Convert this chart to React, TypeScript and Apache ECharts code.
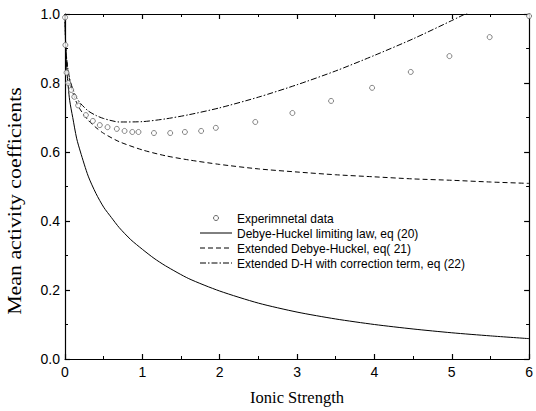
import React, { useEffect, useRef } from "react";
import * as echarts from "echarts";

const xTicks = [0, 1, 2, 3, 4, 5, 6];
const yTickLabels = ["0.0", "0.2", "0.4", "0.6", "0.8", "1.0"];

const experimental: [number, number][] = [
  [0.001, 0.99], [0.005, 0.91], [0.02, 0.83], [0.04, 0.8], [0.08, 0.78], [0.12, 0.76],
  [0.17, 0.735], [0.27, 0.707], [0.36, 0.69], [0.45, 0.678], [0.55, 0.672], [0.67, 0.667],
  [0.77, 0.661], [0.87, 0.658], [0.95, 0.658], [1.15, 0.655], [1.36, 0.655], [1.55, 0.658],
  [1.76, 0.661], [1.95, 0.67], [2.46, 0.687], [2.94, 0.713], [3.44, 0.748], [3.97, 0.786],
  [4.47, 0.832], [4.97, 0.878], [5.49, 0.933], [6.0, 0.994],
];

const limitingLaw: [number, number][] = [
  [0, 1.0], [0.01, 0.89], [0.03, 0.82], [0.06, 0.75], [0.1, 0.7], [0.15, 0.64], [0.2, 0.6],
  [0.3, 0.53], [0.4, 0.48], [0.5, 0.44], [0.6, 0.41], [0.7, 0.381], [0.85, 0.346], [1.0, 0.318],
  [1.15, 0.292], [1.3, 0.27], [1.6, 0.233], [2.0, 0.197], [2.5, 0.162], [3.0, 0.136],
  [3.5, 0.116], [4.0, 0.1], [4.5, 0.087], [5.0, 0.076], [5.5, 0.067], [6.0, 0.059],
];

const extendedDH: [number, number][] = [
  [0, 1.0], [0.01, 0.903], [0.03, 0.85], [0.06, 0.807], [0.1, 0.773], [0.15, 0.743],
  [0.2, 0.722], [0.3, 0.692], [0.4, 0.671], [0.5, 0.654], [0.7, 0.63], [1.0, 0.606],
  [1.3, 0.589], [1.6, 0.577], [2.0, 0.564], [2.5, 0.551], [3.0, 0.542], [3.5, 0.534],
  [4.0, 0.528], [4.5, 0.522], [5.0, 0.518], [5.5, 0.513], [6.0, 0.509],
];

const correctedDH: [number, number][] = [
  [0, 1.0], [0.01, 0.904], [0.03, 0.853], [0.06, 0.813], [0.1, 0.783], [0.15, 0.757],
  [0.2, 0.741], [0.3, 0.719], [0.4, 0.706], [0.5, 0.697], [0.7, 0.687], [1.0, 0.688],
  [1.3, 0.696], [1.6, 0.708], [2.0, 0.728], [2.5, 0.759], [3.0, 0.795], [3.5, 0.835],
  [4.0, 0.88], [4.5, 0.928], [5.0, 0.981], [5.5, 1.036],
];

const legendLabels = [
  "Experimnetal data",
  "Debye-Huckel limiting law, eq (20)",
  "Extended Debye-Huckel, eq( 21)",
  "Extended D-H with correction term, eq (22)",
];

const SANS = "Liberation Sans, Arial, sans-serif";
const SERIF = "Liberation Serif, Times New Roman, serif";

export default function App() {
  const ref = useRef<HTMLDivElement>(null);
  useEffect(() => {
    if (!ref.current) return;
    const chart = echarts.init(ref.current, undefined, { renderer: "svg" });
    const axisLine = { show: true, onZero: false, lineStyle: { color: "#000", width: 1.2 } };
    const tick = { show: true, inside: true, length: 5, lineStyle: { color: "#000", width: 1.2 } };
    const minor = { show: true, splitNumber: 2, length: 3, lineStyle: { color: "#000", width: 1 } };
    const xCommon = {
      type: "value" as const, min: 0, max: 6, interval: 1,
      axisLine, axisTick: tick, minorTick: minor,
      splitLine: { show: false }, minorSplitLine: { show: false },
    };
    const yCommon = {
      type: "value" as const, min: 0, max: 1, interval: 0.2,
      axisLine, axisTick: tick, minorTick: minor,
      splitLine: { show: false }, minorSplitLine: { show: false },
    };
    const legendTop = 218;
    const rowGap = 15;
    const graphics: any[] = [
      { type: "circle", shape: { cx: 216, cy: legendTop, r: 2.5 }, style: { fill: "#fff", stroke: "#666", lineWidth: 1 } },
      { type: "line", shape: { x1: 200, y1: legendTop + rowGap, x2: 232, y2: legendTop + rowGap }, style: { stroke: "#000", lineWidth: 1 } },
      { type: "line", shape: { x1: 200, y1: legendTop + 2 * rowGap, x2: 232, y2: legendTop + 2 * rowGap }, style: { stroke: "#000", lineWidth: 1, lineDash: [5, 3] } },
      { type: "line", shape: { x1: 200, y1: legendTop + 3 * rowGap, x2: 232, y2: legendTop + 3 * rowGap }, style: { stroke: "#000", lineWidth: 1, lineDash: [6, 2, 1.5, 2] } },
      ...legendLabels.map((t, i) => ({
        type: "text", x: 237, y: legendTop + i * rowGap, scaleY: 1.12,
        style: { text: t, fill: "#000", font: `12px ${SANS}`, textVerticalAlign: "middle", textAlign: "left" },
      })),
      {
        type: "text", x: 15, y: 201, rotation: Math.PI / 2, scaleX: 1.15,
        style: { text: "Mean activity coefficients", fill: "#000", font: `19px ${SERIF}`, textAlign: "center", textVerticalAlign: "middle" },
      },
    ];
    const lineCommon = { type: "line" as const, smooth: 0.25, showSymbol: false, symbol: "none" };
    chart.setOption({
      animation: false,
      backgroundColor: "#fff",
      grid: { left: 65, right: 3, top: 14, bottom: 52, containLabel: false },
      xAxis: [
        {
          ...xCommon, position: "bottom",
          name: "Ionic Strength", nameLocation: "middle", nameGap: 30,
          nameTextStyle: { fontFamily: SERIF, fontSize: 16.5, color: "#000" },
          axisLabel: { show: true, margin: 6, fontFamily: SANS, fontSize: 14, color: "#000",
            formatter: (v: number) => (xTicks.includes(v) ? String(v) : "") },
        },
        { ...xCommon, position: "top", axisLabel: { show: false } },
      ],
      yAxis: [
        {
          ...yCommon, position: "left",
          axisLabel: { show: true, margin: 5, fontFamily: SANS, fontSize: 14, color: "#000",
            formatter: (v: number) => yTickLabels[Math.round(v * 5)] ?? "" },
        },
        { ...yCommon, position: "right", axisLabel: { show: false } },
      ],
      graphic: graphics,
      series: [
        {
          type: "scatter", name: legendLabels[0], data: experimental, xAxisIndex: 0, yAxisIndex: 0,
          symbol: "circle", symbolSize: 5,
          itemStyle: { color: "#fff", borderColor: "#666", borderWidth: 1 },
          z: 3,
        },
        { ...lineCommon, name: legendLabels[1], data: limitingLaw, lineStyle: { color: "#000", width: 1 } },
        { ...lineCommon, name: legendLabels[2], data: extendedDH, lineStyle: { color: "#000", width: 1, type: [5, 3] } },
        { ...lineCommon, name: legendLabels[3], data: correctedDH, lineStyle: { color: "#000", width: 1, type: [6, 2, 1.5, 2] } },
      ],
    });
    return () => chart.dispose();
  }, []);
  return <div ref={ref} style={{ width: 536, height: 411, position: "absolute", left: 0, top: 0 }} />;
}
